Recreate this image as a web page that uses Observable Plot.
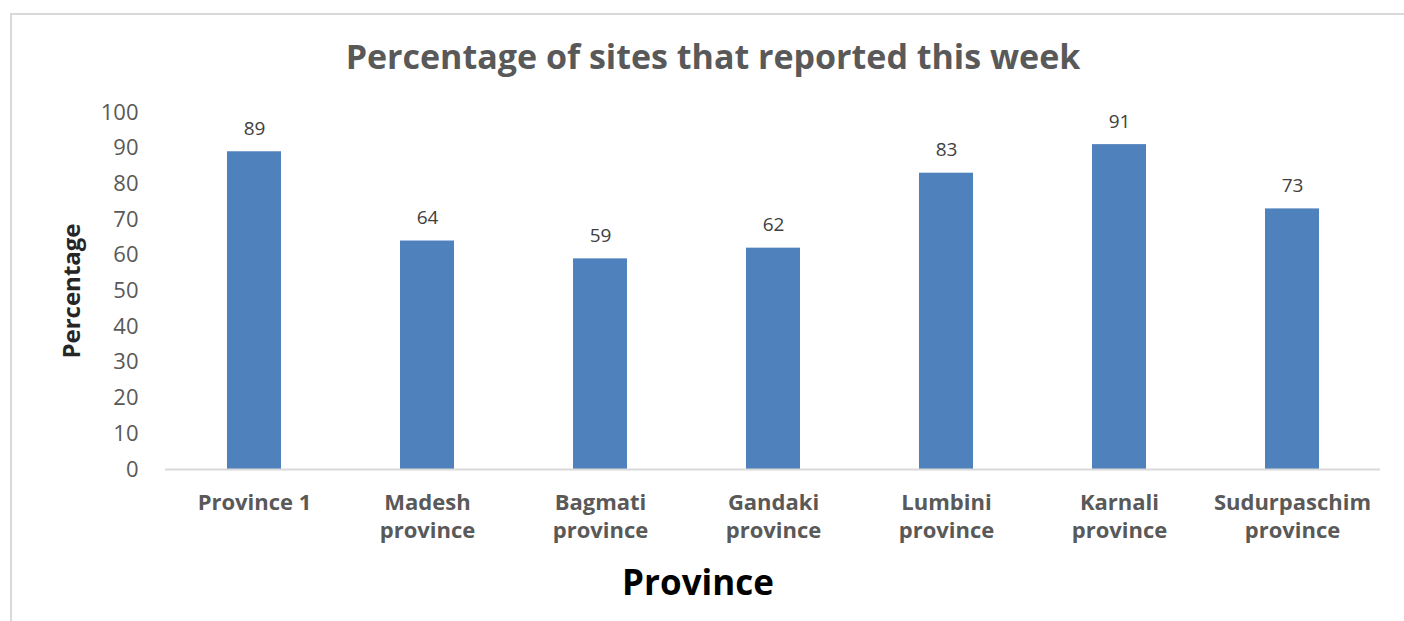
<!DOCTYPE html>
<html>
<head>
<meta charset="utf-8">
<script src="https://cdn.jsdelivr.net/npm/d3@7"></script>
<script src="https://cdn.jsdelivr.net/npm/@observablehq/plot@0.6"></script>
<style>
  html, body { margin: 0; padding: 0; background: #fff; overflow: hidden; }
  #wrap { position: relative; width: 1404px; height: 621px; }
  #frame { position: absolute; left: 10px; top: 13px; width: 1420px; height: 700px; border: 2px solid #d9d9d9; box-sizing: border-box; }
  #chart { position: absolute; left: 0; top: 0; }
  svg { font-family: "Open Sans", sans-serif; }
</style>
</head>
<body>
<div id="wrap"><div id="frame"></div><div id="chart"></div></div>
<script>
const provinces = ["Province 1", "Madesh province", "Bagmati province", "Gandaki province", "Lumbini province", "Karnali province", "Sudurpaschim province"];
const tickLabels = ["Province 1", "Madesh\nprovince", "Bagmati\nprovince", "Gandaki\nprovince", "Lumbini\nprovince", "Karnali\nprovince", "Sudurpaschim\nprovince"];
const percentages = [89, 64, 59, 62, 83, 91, 73];
const yTicks = [0, 10, 20, 30, 40, 50, 60, 70, 80, 90, 100];
const titleText = "Percentage of sites that reported this week";
const xLabel = "Province";
const yLabel = "Percentage";

const data = provinces.map((p, i) => ({province: p, value: percentages[i]}));
const labelOf = new Map(provinces.map((p, i) => [p, tickLabels[i]]));

const chart = Plot.plot({
  width: 1404,
  height: 621,
  marginLeft: 165,
  marginRight: 24,
  marginTop: 112,
  marginBottom: 152,
  style: {fontFamily: "Open Sans, sans-serif", background: "transparent", overflow: "visible"},
  x: {domain: provinces, paddingInner: 0.69, paddingOuter: 0.345, label: null},
  y: {domain: [0, 100], label: null},
  marks: [
    Plot.barY(data, {x: "province", y: "value", fill: "#4f81bd"}),
    Plot.ruleY([0], {stroke: "#d9d9d9", strokeWidth: 2}),
    Plot.text(data, {x: "province", y: "value", text: d => String(d.value), lineAnchor: "bottom", dy: -17, fontSize: 19, fill: "#404040"}),
    Plot.axisY({ticks: yTicks, tickSize: 0, tickPadding: 27, fontSize: 22, fill: "#595959", label: null}),
    Plot.axisX({tickSize: 0, tickPadding: 20, fontSize: 22, fontWeight: "bold", fill: "#595959", lineHeight: 1.3, tickFormat: d => labelOf.get(d), label: null}),
    Plot.text([titleText], {frameAnchor: "top", text: d => d, dx: -60, dy: -54, lineAnchor: "middle", fontSize: 34, fontWeight: "bold", fill: "#595959"}),
    Plot.text([xLabel], {frameAnchor: "bottom", text: d => d, dx: -75, dy: 114, lineAnchor: "middle", fontSize: 35, fontWeight: "bold", fill: "#000"}),
    Plot.text([yLabel], {frameAnchor: "left", text: d => d, dx: -93, dy: 0, rotate: -90, textAnchor: "middle", lineAnchor: "middle", fontSize: 24, fontWeight: "bold", fill: "#262626"})
  ]
});
document.getElementById("chart").appendChild(chart);
</script>
</body>
</html>
